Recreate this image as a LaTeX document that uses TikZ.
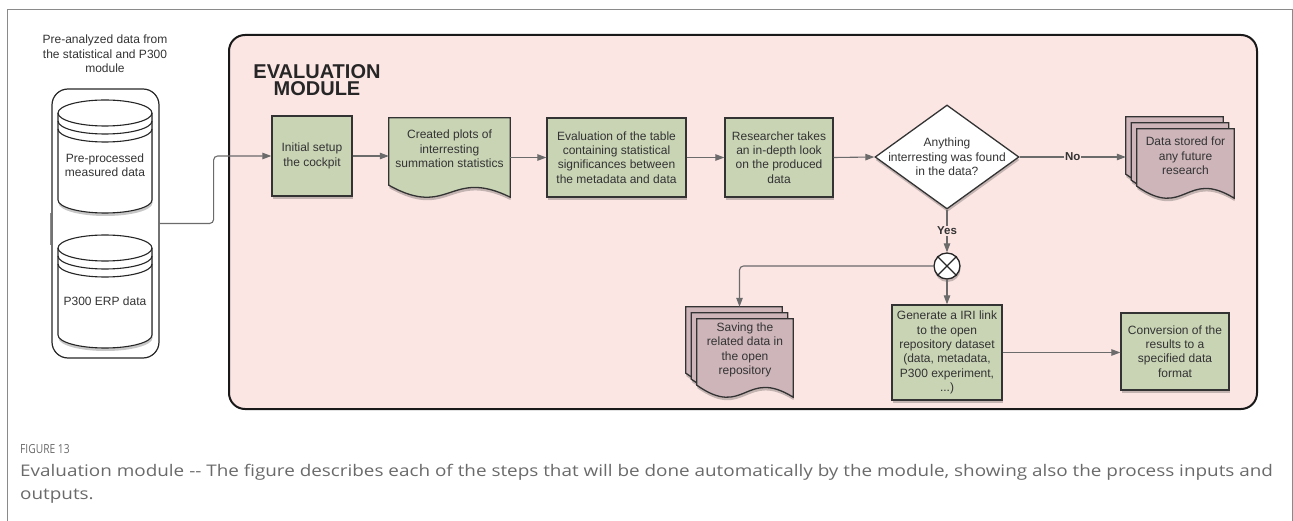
\documentclass[tikz,border=0pt]{standalone}
\usepackage{fontspec}
\setmainfont{Liberation Sans}
\newfontfamily\capfont{Open Sans}[FakeStretch=1.18]
\newfontfamily\fignofont{Open Sans}[FakeStretch=0.82]
\usetikzlibrary{calc,shapes.geometric,arrows.meta,shadows}
\definecolor{modpink}{HTML}{FBE6E4}
\definecolor{stepgreen}{HTML}{C9D4B5}
\definecolor{storemauve}{HTML}{CDB5BA}
\definecolor{linegray}{HTML}{6B6B6B}
\definecolor{textgray}{HTML}{333333}
\definecolor{capgray}{HTML}{6A6A6A}
\definecolor{framegray}{HTML}{8A8A8A}
\pgfdeclarelayer{background}
\pgfsetlayers{background,main}
\def\drum(#1,#2,#3){\filldraw[drumline, fill=white, softshadow] (#1-47,#2+13) arc[start angle=180, end angle=360, x radius=47, y radius=13] -- (#1+47,#3-13) arc[start angle=0, end angle=180, x radius=47, y radius=13] -- cycle;
	\draw[drumline] (#1-47,#2+13) arc[start angle=180, end angle=0, x radius=47, y radius=13];
	\draw[drumline] (#1-47,#2+21) arc[start angle=180, end angle=0, x radius=47, y radius=13];
	\draw[drumline] (#1-47,#2+29) arc[start angle=180, end angle=0, x radius=47, y radius=13];}
\def\docshape[#1](#2)(#3)#4{\draw[#1] ($(#2.north west)+(#3)$) -- ($(#2.north east)+(#3)$) -- ($(#2.south east)+(#3)+(0,#4)$) .. controls ($(#2.south)+(#3)+(0,#4-30)$) and ($(#2.south)+(#3)+(0,#4+22)$) .. ($(#2.south west)+(#3)+(0,#4-12)$) -- cycle;}

\begin{document}
\begin{tikzpicture}[x=1pt, y=-1pt,
	softshadow/.style={drop shadow={shadow xshift=0.5pt, shadow yshift=-3pt, opacity=0.22, fill=black}},
	txt/.style={font=\fontsize{12}{14.3}\selectfont, text=textgray, align=center, inner sep=0pt},
	stepbox/.style={txt, draw=textgray, line width=1.3pt, fill=stepgreen, softshadow},
	sheet/.style={draw=textgray, line width=1.3pt, softshadow},
	drumline/.style={draw=black!85, line width=1.1pt},
	flow/.style={draw=linegray, line width=1.1pt, -{Triangle[length=9pt, width=6.5pt]}},
	yeslab/.style={font=\bfseries\fontsize{11.5}{14}\selectfont, text=textgray, fill=modpink, inner sep=1pt}]
			%%%%% START %%%%%
			\useasboundingbox (0,0) rectangle (1293,521);
			\draw[framegray, line width=0.8pt] (7,540) -- (7,9) -- (1292,9) -- (1292,540);
			
			\begin{pgfonlayer}{background}
			\draw[black!90, line width=2pt, fill=modpink, rounded corners=16pt] (229,35) rectangle (1257,409);
			\end{pgfonlayer}
			\node[font=\bfseries\fontsize{20}{17}\selectfont, text=black!85, align=center, inner sep=0pt] (title) at (317,80) {EVALUATION\\MODULE};
			
			% inputs
			\node[txt] (head) at (105,54) {Pre-analyzed data from\\the statistical and P300\\module};
			\node[draw=black!85, line width=1.2pt, rounded corners=16pt, minimum width=107, minimum height=269] (cont) at (105.5,223.5) {};
			\draw[framegray, line width=0.7pt] (50.5,213) -- (50.5,245);
			\node[txt] (ppdata) at (105,165) {Pre-processed\\measured data};
			\node[txt] (erpdata) at (105,301) {P300 ERP data};
			
			% steps
			\node[stepbox, minimum width=80, minimum height=80] (setup) at (312,156) {Initial setup\\the cockpit};
			\node[txt, minimum width=121, minimum height=62] (plots) at (449.5,149) {Created plots of\\interresting\\summation statistics};
			\node[stepbox, minimum width=139, minimum height=79] (table) at (616.5,157.5) {Evaluation of the table\\containing statistical\\significances between\\the metadata and data};
			\node[stepbox, minimum width=108, minimum height=79] (look) at (779,157.5) {Researcher takes\\an in-depth look\\on the produced\\data};
			\node[diamond, draw=textgray, line width=1.3pt, fill=white, minimum width=144, minimum height=104, inner sep=0pt, softshadow,
				label={[txt]center:Anything\\interresting was found\\in the data?}] (decide) at (947,157) {};
			\node[txt, minimum width=97, minimum height=54] (stored) at (1185.5,156) {Data stored for\\any future\\research};
			\coordinate (storedin) at ($(stored.west)+(-11,0)$);
			
			\node[circle, draw=black!85, line width=1.3pt, fill=white, minimum size=26, inner sep=0pt, softshadow] (merge) at (947,266) {};
			\draw[black!85, line width=1.3pt] (merge.45) -- (merge.225) (merge.135) -- (merge.315);
			
			\node[txt, minimum width=96, minimum height=62] (saving) at (745,350) {Saving the\\related data in\\the open\\repository};
			\coordinate (savetop) at ($(saving.north)+(-5.5,-12)$);
			\node[stepbox, minimum width=110, minimum height=95] (iri) at (947,352.5) {Generate a IRI link\\to the open\\repository dataset\\(data, metadata,\\P300 experiment,\\...)};
			\node[stepbox, minimum width=108, minimum height=77] (convert) at (1175,351.5) {Conversion of the\\results to a\\specified data\\format};
			
			% shapes behind the texts
			\begin{pgfonlayer}{background}
			\drum(105,100,213)
			\drum(105,235,348)
			\docshape[sheet, fill=stepgreen](plots)(0,0){17}
			\docshape[sheet, fill=storemauve](stored)(-11,-12){15}
			\docshape[sheet, fill=storemauve](stored)(-5.5,-6){15}
			\docshape[sheet, fill=storemauve](stored)(0,0){15}
			\docshape[sheet, fill=storemauve](saving)(-11,-12){16}
			\docshape[sheet, fill=storemauve](saving)(-5.5,-6){16}
			\docshape[sheet, fill=storemauve](saving)(0,0){16}
			\end{pgfonlayer}
			
			% connectors
			\draw[flow, rounded corners=4pt] (cont.east) -- ++(54,0) |- (setup.west);
			\draw[flow] (setup.east) -- (setup.east -| plots.west);
			\draw[flow] (plots.east |- table.west) -- (table.west);
			\draw[flow] (table.east) -- (look.west);
			\draw[flow] (look.east) -- (decide.west);
			\draw[flow] (decide.east) -- node[yeslab]{No} (decide -| storedin);
			\draw[flow] (decide.south) -- node[yeslab]{Yes} (merge.north);
			\draw[flow, rounded corners=4pt] (merge.west) -| (savetop);
			\draw[flow] (merge.south) -- (iri.north);
			\draw[flow] (iri.east) -- (iri.east -| convert.west);
			
			% caption
			\node[anchor=west, font=\fignofont\fontsize{12.5}{14}\selectfont, text=capgray, inner sep=0pt] (figno) at (20,449) {FIGURE 13};
			\node[anchor=north west, align=left, font=\capfont\fontsize{16}{23}\selectfont, text=capgray, inner sep=0pt] (caption) at (20,464) {Evaluation module -- The figure describes each of the steps that will be done automatically by the module, showing also the process inputs and\\outputs.};
			%%%%% END %%%%%
\end{tikzpicture}
\end{document}
